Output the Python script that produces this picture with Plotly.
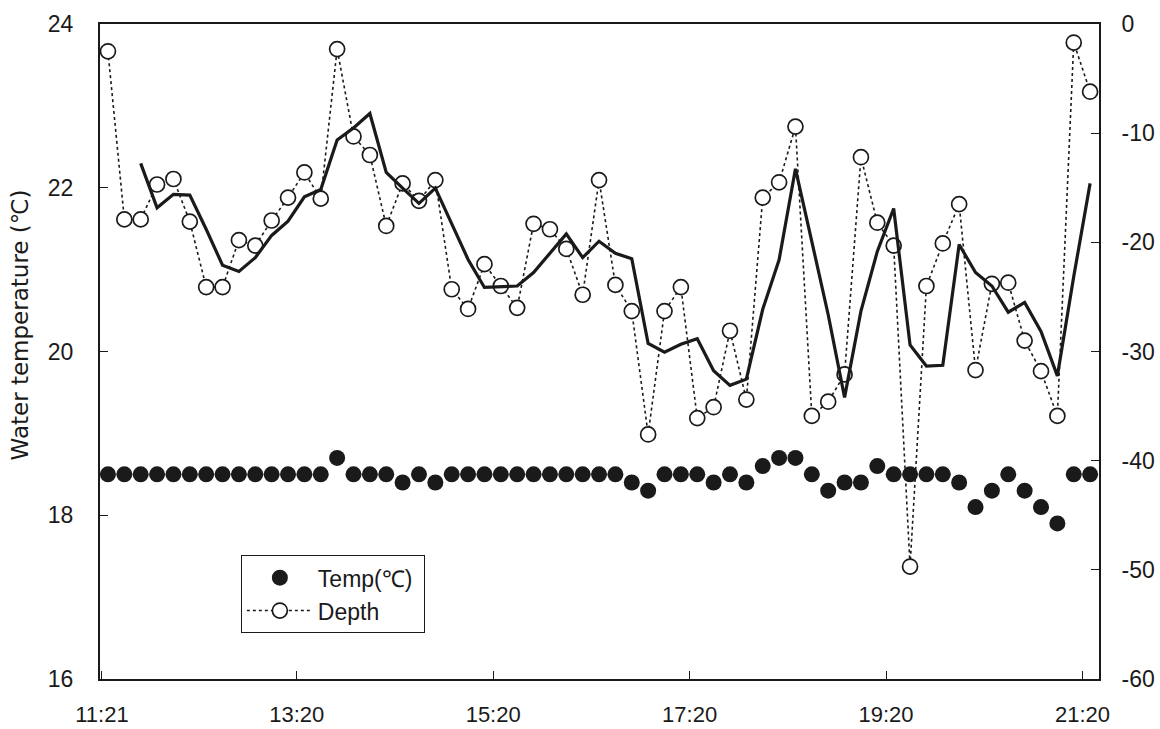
import pandas as pd
import plotly.graph_objects as go

# ---- data ----
sample_times = pd.date_range("2000-01-01 11:24:40", periods=61, freq="10min")

temp_c = [18.5, 18.5, 18.5, 18.5, 18.5, 18.5, 18.5, 18.5, 18.5, 18.5,
          18.5, 18.5, 18.5, 18.5, 18.7, 18.5, 18.5, 18.5, 18.4, 18.5,
          18.4, 18.5, 18.5, 18.5, 18.5, 18.5, 18.5, 18.5, 18.5, 18.5,
          18.5, 18.5, 18.4, 18.3, 18.5, 18.5, 18.5, 18.4, 18.5, 18.4,
          18.6, 18.7, 18.7, 18.5, 18.3, 18.4, 18.4, 18.6, 18.5, 18.5,
          18.5, 18.5, 18.4, 18.1, 18.3, 18.5, 18.3, 18.1, 17.9, 18.5,
          18.5]

depth_m = [-2.5, -17.9, -17.9, -14.7, -14.2, -18.1, -24.1, -24.1, -19.8, -20.3,
           -18.0, -15.9, -13.6, -16.0, -2.3, -10.3, -12.0, -18.5, -14.6, -16.2,
           -14.3, -24.3, -26.1, -22.0, -24.0, -26.0, -18.3, -18.8, -20.6, -24.8,
           -14.3, -23.9, -26.3, -37.6, -26.3, -24.1, -36.1, -35.1, -28.1, -34.4,
           -15.9, -14.5, -9.4, -35.9, -34.6, -32.1, -12.2, -18.2, -20.3, -49.7,
           -24.0, -20.1, -16.5, -31.7, -23.8, -23.7, -29.0, -31.8, -35.9, -1.7,
           -6.2]

tick_times = ["2000-01-01 11:21", "2000-01-01 13:20", "2000-01-01 15:20",
              "2000-01-01 17:20", "2000-01-01 19:20", "2000-01-01 21:20"]
tick_labels = ["11:21", "13:20", "15:20", "17:20", "19:20", "21:20"]

temp_ticks = [16, 18, 20, 22, 24]
depth_ticks = [-60, -50, -40, -30, -20, -10, 0]
depth_tick_labels = ["-60", "-50", "-40", "-30", "-20", "-10", "0"]

# 3-period moving-average trendline of depth (as in the original chart)
depth_ma = pd.Series(depth_m).rolling(3).mean().tolist()

FONT = "Liberation Sans, Arial, sans-serif"
INK = "#1a1a1a"
PAD = "\u00a0"

fig = go.Figure()

fig.add_trace(go.Scatter(
    x=sample_times, y=temp_c, name="Temp(℃)" + PAD, mode="markers",
    marker=dict(symbol="circle", size=16, color=INK, line=dict(width=0)),
    yaxis="y"))

fig.add_trace(go.Scatter(
    x=sample_times, y=depth_m, name="Depth", mode="lines+markers",
    line=dict(color=INK, width=1.6, dash="dot"),
    marker=dict(symbol="circle", size=15, color="white",
                line=dict(width=1.7, color=INK)),
    yaxis="y2"))

fig.add_trace(go.Scatter(
    x=sample_times, y=depth_ma, name="Depth MA", mode="lines",
    line=dict(color=INK, width=3.2), showlegend=False,
    yaxis="y2"))

fig.update_layout(
    width=1160, height=729,
    margin=dict(l=100, r=61, t=24, b=50),
    paper_bgcolor="white", plot_bgcolor="white",
    font=dict(family=FONT, size=23, color=INK),
    showlegend=True,
    legend=dict(x=0.141, y=0.189, xanchor="left", yanchor="top",
                bordercolor=INK, borderwidth=1, bgcolor="white",
                font=dict(size=23, family=FONT), itemwidth=66),
    xaxis=dict(
        type="date", automargin=False,
        range=["2000-01-01 11:19:48", "2000-01-01 21:30:06"],
        tickmode="array", tickvals=tick_times, ticktext=tick_labels,
        ticks="inside", ticklen=8, tickwidth=1, tickcolor=INK,
        showline=True, linecolor=INK, linewidth=2, mirror=True,
        showgrid=False, zeroline=False, ticklabelstandoff=15,
        tickfont=dict(size=22)),
    yaxis=dict(
        range=[16, 24], tickmode="array", tickvals=temp_ticks,
        automargin=False,
        ticks="inside", ticklen=8, tickwidth=1, tickcolor=INK,
        showline=True, linecolor=INK, linewidth=2,
        showgrid=False, zeroline=False, ticklabelstandoff=20,
        tickfont=dict(size=23)),
    yaxis2=dict(
        range=[-60, 0], tickmode="array", tickvals=depth_ticks,
        ticktext=depth_tick_labels, automargin=False,
        overlaying="y", side="right",
        ticks="inside", ticklen=8, tickwidth=1, tickcolor=INK,
        showline=True, linecolor=INK, linewidth=2,
        showgrid=False, zeroline=False, ticklabelstandoff=16,
        tickfont=dict(size=23)),
    annotations=[dict(
        text="Water temperature (℃)", xref="paper", yref="paper",
        x=-0.08, y=0.54, xanchor="center", yanchor="middle",
        textangle=-90, showarrow=False,
        font=dict(family="DejaVu Sans, sans-serif", size=23, color=INK))],
)

fig.write_html(
    "out.html",
    config={"displayModeBar": False},
    post_script="document.body.style.margin='0px';document.body.style.overflow='hidden';")
